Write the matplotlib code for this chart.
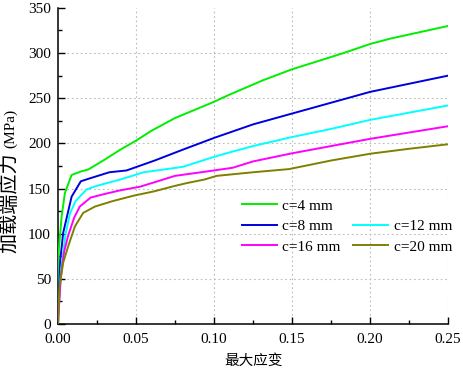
import matplotlib
matplotlib.use("Agg")
import matplotlib.pyplot as plt
from matplotlib.lines import Line2D
from matplotlib.ticker import MultipleLocator, FormatStrFormatter

x_c4 = [0, 0.0006, 0.0024, 0.0045, 0.0088, 0.015, 0.0194, 0.03, 0.04, 0.05, 0.06, 0.075, 0.1, 0.11, 0.1316, 0.15, 0.183, 0.2, 0.213, 0.25]
y_c4 = [0, 82, 119, 145, 165, 169, 171, 182, 193, 203, 214, 228, 246, 254, 270, 282, 300, 310, 316, 330]

x_c8 = [0, 0.0015, 0.0034, 0.0088, 0.0147, 0.02, 0.033, 0.044, 0.062, 0.08, 0.1, 0.11, 0.125, 0.15, 0.175, 0.2, 0.225, 0.25]
y_c8 = [0, 70, 101, 141, 158, 161, 168, 170, 181, 193, 206, 212, 221, 233, 245, 257, 266, 275]

x_c12 = [0, 0.002, 0.005, 0.0077, 0.0113, 0.0184, 0.025, 0.04, 0.055, 0.08, 0.1, 0.11, 0.125, 0.15, 0.175, 0.2, 0.225, 0.25]
y_c12 = [0, 60, 100, 122, 136, 149, 153, 160, 168, 174, 185, 190, 197, 207, 216, 226, 234, 242]

x_c16 = [0, 0.002, 0.004, 0.0066, 0.0105, 0.014, 0.021, 0.03, 0.04, 0.0526, 0.062, 0.075, 0.1, 0.112, 0.125, 0.15, 0.175, 0.2, 0.225, 0.25]
y_c16 = [0, 55, 80, 98, 118, 130, 140, 144, 148, 152, 157, 164, 170, 173, 180, 189, 197, 205, 212, 219]

x_c20 = [0, 0.001, 0.0034, 0.0066, 0.0109, 0.0162, 0.0237, 0.035, 0.0483, 0.062, 0.074, 0.0825, 0.094, 0.1017, 0.125, 0.148, 0.175, 0.2, 0.225, 0.25]
y_c20 = [0, 40, 68, 86, 108, 123, 130, 136, 142, 147, 152.5, 156, 160, 164, 168, 171.5, 181, 188.5, 194, 199]

labels = ["c=4 mm", "c=8 mm", "c=12 mm", "c=16 mm", "c=20 mm"]
colors = ["#00ee00", "#0000dd", "#00ffff", "#ff00ff", "#808000"]

x_ticks = [0.0, 0.05, 0.10, 0.15, 0.20, 0.25]
y_ticks = [0, 50, 100, 150, 200, 250, 300, 350]

plt.rcParams['font.family'] = ['Liberation Serif', 'Noto Sans CJK SC']
fig = plt.figure(figsize=(4.63, 3.75), dpi=100)
ax = fig.add_axes([0.125, 0.136, 0.843, 0.843])

series = [(x_c4, y_c4), (x_c8, y_c8), (x_c12, y_c12), (x_c16, y_c16), (x_c20, y_c20)]
handles = []
for (xs, ys), lab, col in zip(series, labels, colors):
    h, = ax.plot(xs, ys, color=col, lw=1.4, label=lab, zorder=3)
    handles.append(h)

ax.set_xlim(x_ticks[0], x_ticks[-1])
ax.set_ylim(y_ticks[0], y_ticks[-1])
ax.set_xticks(x_ticks)
ax.set_yticks(y_ticks)
ax.xaxis.set_minor_locator(MultipleLocator(0.025))
ax.yaxis.set_minor_locator(MultipleLocator(25))
ax.xaxis.set_major_formatter(FormatStrFormatter('%.2f'))

gstyle = dict(color='#bbbbbb', linestyle=(0, (1.5, 2.5)), lw=0.8, zorder=1)
for xv in x_ticks[1:]:
    ax.axvline(xv, **gstyle)
for yv in y_ticks[1:-1]:
    ax.axhline(yv, **gstyle)

ax.tick_params(which='both', direction='in', labelsize=11, top=False, right=False, width=1)
ax.tick_params(which='major', length=5)
ax.tick_params(which='minor', length=3)
ax.tick_params(axis='x', which='major', pad=6.5)
ax.tick_params(axis='y', which='major', pad=5)
for s in ['top', 'right']:
    ax.spines[s].set_visible(False)
for s in ['bottom', 'left']:
    ax.spines[s].set_linewidth(1.1)

fig.text(254 / 463, 1 - 361 / 375, "最大应变", fontsize=10.5, ha='center', va='center')
fig.text(11 / 463, 1 - 148 / 375, "(MPa)", fontsize=11, rotation=90, ha='center', va='bottom')
fig.text(11 / 463, 1 - 152 / 375, "加载端应力", fontsize=14.5, rotation=90, ha='center', va='top')

blank = Line2D([], [], color='none')
leg_handles = [handles[0], handles[1], handles[3], blank, handles[2], handles[4]]
leg_labels = [labels[0], labels[1], labels[3], "", labels[2], labels[4]]
ax.legend(leg_handles, leg_labels, ncol=2, frameon=False, fontsize=11,
          loc='upper left', bbox_to_anchor=(0.452, 0.42), borderpad=0,
          handlelength=2.3, handletextpad=0.35, columnspacing=0.8, labelspacing=0.45)

fig.savefig("out.png", dpi=100)
